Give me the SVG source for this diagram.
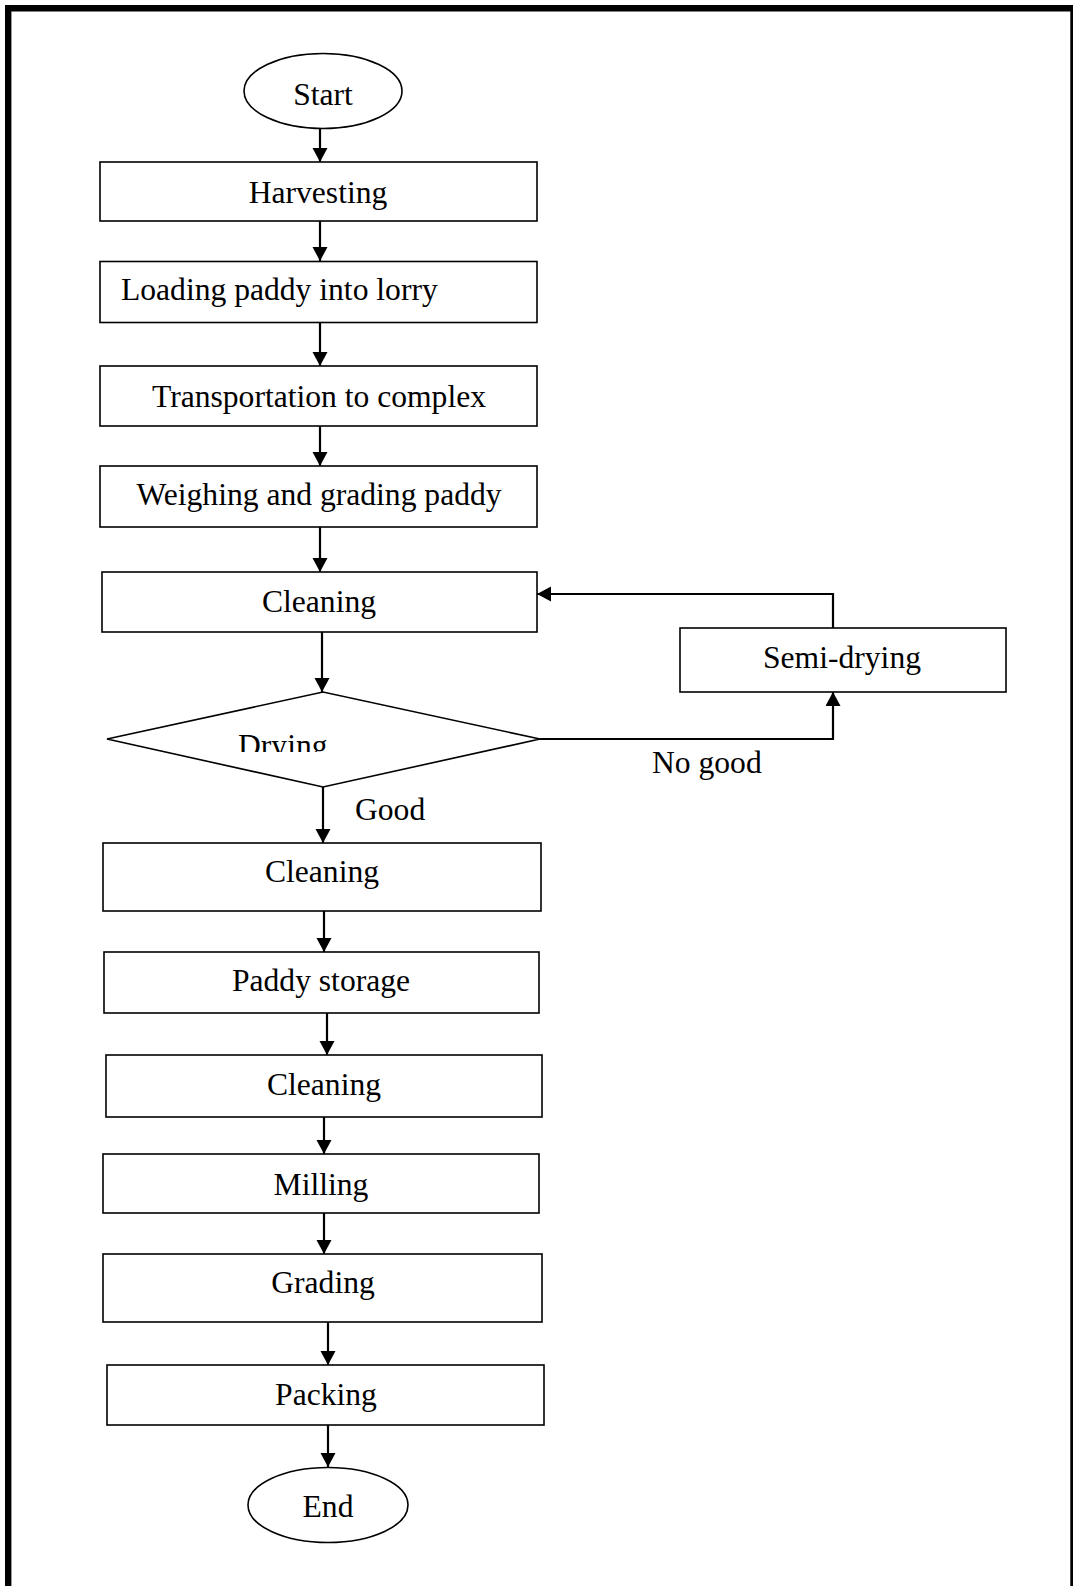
<svg xmlns="http://www.w3.org/2000/svg" width="1073" height="1586" viewBox="0 0 1073 1586">
<style>
  .box{fill:#fff;stroke:#000;stroke-width:1.6}
  .t{font-family:"Liberation Serif","Times New Roman",serif;font-size:31.6px;fill:#000}
  .c{text-anchor:middle}
  .edge{fill:none;stroke:#000;stroke-width:2.2}
</style>
<defs>
  <marker id="ah" markerUnits="userSpaceOnUse" markerWidth="15" markerHeight="16" refX="14" refY="7.5" orient="auto">
    <path d="M0,0 L14,7.5 L0,15 z" fill="#000"/>
  </marker>
  <clipPath id="dryclip"><rect x="150" y="700" width="300" height="52"/></clipPath>
</defs>
<rect width="1073" height="1586" fill="#fff"/>
<path d="M8.2,1600 V8.2 H1073.5 V1600" fill="none" stroke="#000" stroke-width="6.4"/>

<g id="connectors">
  <path class="edge" d="M320,129 V162" marker-end="url(#ah)"/>
  <path class="edge" d="M320,221 V261" marker-end="url(#ah)"/>
  <path class="edge" d="M320,323 V366" marker-end="url(#ah)"/>
  <path class="edge" d="M320,426 V466" marker-end="url(#ah)"/>
  <path class="edge" d="M320,527 V572" marker-end="url(#ah)"/>
  <path class="edge" d="M322,632 V692" marker-end="url(#ah)"/>
  <path class="edge" d="M323,787 V843" marker-end="url(#ah)"/>
  <path class="edge" d="M324,911 V952" marker-end="url(#ah)"/>
  <path class="edge" d="M327,1013 V1055" marker-end="url(#ah)"/>
  <path class="edge" d="M324,1117 V1154" marker-end="url(#ah)"/>
  <path class="edge" d="M324,1213 V1254" marker-end="url(#ah)"/>
  <path class="edge" d="M328,1322 V1365" marker-end="url(#ah)"/>
  <path class="edge" d="M328,1425 V1467" marker-end="url(#ah)"/>
  <path class="edge" d="M540,739 H833 V692" marker-end="url(#ah)"/>
  <path class="edge" d="M833,628 V594 H537" marker-end="url(#ah)"/>
  <text class="t" x="355" y="820">Good</text>
  <text class="t" x="652" y="773">No good</text>
</g>

<g id="start">
  <ellipse class="box" cx="323" cy="91" rx="79" ry="37.5"/>
  <text class="t c" x="323" y="105">Start</text>
</g>
<g id="harvesting">
  <rect class="box" x="100" y="162" width="437" height="59"/>
  <text class="t c" x="318" y="203">Harvesting</text>
</g>
<g id="loading">
  <rect class="box" x="100" y="261.5" width="437" height="61"/>
  <text class="t" x="121" y="300">Loading paddy into lorry</text>
</g>
<g id="transportation">
  <rect class="box" x="100" y="366" width="437" height="60"/>
  <text class="t c" x="319" y="407">Transportation to complex</text>
</g>
<g id="weighing">
  <rect class="box" x="100" y="466" width="437" height="61"/>
  <text class="t c" x="319" y="505">Weighing and grading paddy</text>
</g>
<g id="cleaning1">
  <rect class="box" x="102" y="572" width="435" height="60"/>
  <text class="t c" x="319" y="612">Cleaning</text>
</g>
<g id="drying">
  <polygon class="box" points="107,739 323,692 540,739 323,787"/>
  <text class="t" x="238" y="756" clip-path="url(#dryclip)">Drying</text>
</g>
<g id="semidrying">
  <rect class="box" x="680" y="628" width="326" height="64"/>
  <text class="t c" x="842" y="668">Semi-drying</text>
</g>
<g id="cleaning2">
  <rect class="box" x="103" y="843" width="438" height="68"/>
  <text class="t c" x="322" y="882">Cleaning</text>
</g>
<g id="storage">
  <rect class="box" x="104" y="952" width="435" height="61"/>
  <text class="t c" x="321" y="991">Paddy storage</text>
</g>
<g id="cleaning3">
  <rect class="box" x="106" y="1055" width="436" height="62"/>
  <text class="t c" x="324" y="1095">Cleaning</text>
</g>
<g id="milling">
  <rect class="box" x="103" y="1154" width="436" height="59"/>
  <text class="t c" x="321" y="1195">Milling</text>
</g>
<g id="grading">
  <rect class="box" x="103" y="1254" width="439" height="68"/>
  <text class="t c" x="323" y="1293">Grading</text>
</g>
<g id="packing">
  <rect class="box" x="107" y="1365" width="437" height="60"/>
  <text class="t c" x="326" y="1405">Packing</text>
</g>
<g id="end">
  <ellipse class="box" cx="328" cy="1505" rx="80" ry="37.5"/>
  <text class="t c" x="328" y="1517">End</text>
</g>
</svg>
